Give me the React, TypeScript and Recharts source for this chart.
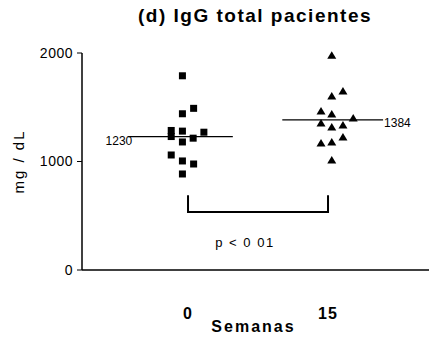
import React from 'react';
import { ScatterChart, Scatter, XAxis, YAxis, ReferenceLine, ReferenceDot } from 'recharts';

const weeks = [0, 15];
const yTicks = [0, 1000, 2000];
const means = [1230, 1384];
const pLabel = 'p < 0 01';

// jittered columns around each week
const week0 = [
  { x: -0.6, y: 1790 },
  { x: -0.6, y: 1440 },
  { x: 0.6, y: 1490 },
  { x: -1.8, y: 1286 },
  { x: -1.8, y: 1230 },
  { x: -0.6, y: 1280 },
  { x: -0.6, y: 1180 },
  { x: 0.55, y: 1215 },
  { x: 1.7, y: 1270 },
  { x: -1.8, y: 1060 },
  { x: -0.6, y: 1005 },
  { x: 0.6, y: 977 },
  { x: -0.6, y: 885 },
];

const week15 = [
  { x: 15.4, y: 1980 },
  { x: 15.4, y: 1604 },
  { x: 16.6, y: 1650 },
  { x: 14.25, y: 1465 },
  { x: 15.4, y: 1438 },
  { x: 17.7, y: 1401 },
  { x: 14.25, y: 1355 },
  { x: 15.4, y: 1318 },
  { x: 16.6, y: 1336 },
  { x: 14.25, y: 1170 },
  { x: 15.4, y: 1180 },
  { x: 16.6, y: 1226 },
  { x: 15.4, y: 1014 },
];

const bracket = [
  { x: 0, y: 690 },
  { x: 0, y: 535 },
  { x: 15, y: 535 },
  { x: 15, y: 690 },
];

const font = '"Liberation Sans", Arial, sans-serif';

const Square = (props: any) => (
  <rect x={props.cx - 3.5} y={props.cy - 3.5} width={7} height={7} fill="#000" />
);

const Triangle = (props: any) => {
  const { cx, cy } = props;
  return <polygon points={`${cx},${cy - 4} ${cx - 4.5},${cy + 3.5} ${cx + 4.5},${cy + 3.5}`} fill="#000" />;
};

const NoDot = () => <g />;

export default function App() {
  return (
    <div style={{ position: 'absolute', left: 0, top: 0, width: 429, height: 343, background: '#fff', fontFamily: font }}>
      <div style={{ position: 'absolute', left: 138, top: 5, fontSize: 19, fontWeight: 'bold', letterSpacing: 1.5, color: '#000', whiteSpace: 'nowrap' }}>
        (d) IgG total pacientes
      </div>
      <ScatterChart width={429} height={343} margin={{ top: 53, right: 0, bottom: 11, left: 0 }}>
        <XAxis
          type="number"
          dataKey="x"
          domain={[-11.36, 25.82]}
          ticks={weeks}
          allowDataOverflow
          tickLine={false}
          tickMargin={32}
          height={62}
          axisLine={{ stroke: '#000', strokeWidth: 1.5 }}
          tick={{ fill: '#000', fontSize: 16, fontWeight: 'bold', fontFamily: font, letterSpacing: 1 }}
          label={{
            content: (p: any) => (
              <text x={p.viewBox.x + p.viewBox.width / 2 - 2} y={p.viewBox.y + p.viewBox.height} textAnchor="middle" fontSize={16} fontWeight="bold" letterSpacing={2} fill="#000" fontFamily={font}>
                Semanas
              </text>
            ),
          }}
        />
        <YAxis
          type="number"
          dataKey="y"
          domain={[0, 2000]}
          ticks={yTicks}
          width={82}
          tickSize={5}
          tickMargin={4}
          axisLine={{ stroke: '#000', strokeWidth: 1.5 }}
          tickLine={{ stroke: '#000' }}
          tick={{ fill: '#000', fontSize: 14, fontFamily: font, letterSpacing: 0.5 }}
          label={{
            content: (p: any) => {
              const x = p.viewBox.x + 18;
              const y = p.viewBox.y + p.viewBox.height / 2;
              return (
                <text x={x} y={y} transform={`rotate(-90 ${x} ${y})`} textAnchor="middle" dominantBaseline="central" fontSize={15} letterSpacing={2} fill="#000" fontFamily={font}>
                  mg / dL
                </text>
              );
            },
          }}
        />
        <ReferenceLine
          segment={[{ x: -6.4, y: means[0] }, { x: 4.8, y: means[0] }]}
          stroke="#000"
          strokeWidth={1.2}
          label={{
            content: (p: any) => (
              <text x={p.viewBox.x + 4} y={p.viewBox.y + 4} textAnchor="end" dominantBaseline="central" fontSize={12} fill="#000" fontFamily={font}>
                {means[0]}
              </text>
            ),
          }}
        />
        <ReferenceLine
          segment={[{ x: 10.1, y: means[1] }, { x: 20.9, y: means[1] }]}
          stroke="#000"
          strokeWidth={1.2}
          label={{
            content: (p: any) => (
              <text x={p.viewBox.x + p.viewBox.width + 1} y={p.viewBox.y + 3} textAnchor="start" dominantBaseline="central" fontSize={12} fill="#000" fontFamily={font}>
                {means[1]}
              </text>
            ),
          }}
        />
        <Scatter data={bracket} shape={NoDot} line={{ stroke: '#000', strokeWidth: 2 }} isAnimationActive={false} />
        <Scatter data={week0} shape={Square} isAnimationActive={false} />
        <Scatter data={week15} shape={Triangle} isAnimationActive={false} />
        <ReferenceDot
          x={6.1}
          y={258}
          r={0}
          fill="none"
          stroke="none"
          label={{
            content: (p: any) => (
              <text x={p.viewBox.x + p.viewBox.width / 2} y={p.viewBox.y + p.viewBox.height / 2} textAnchor="middle" dominantBaseline="central" fontSize={13} letterSpacing={1.5} fill="#000" fontFamily={font}>
                {pLabel}
              </text>
            ),
          }}
        />
      </ScatterChart>
    </div>
  );
}
